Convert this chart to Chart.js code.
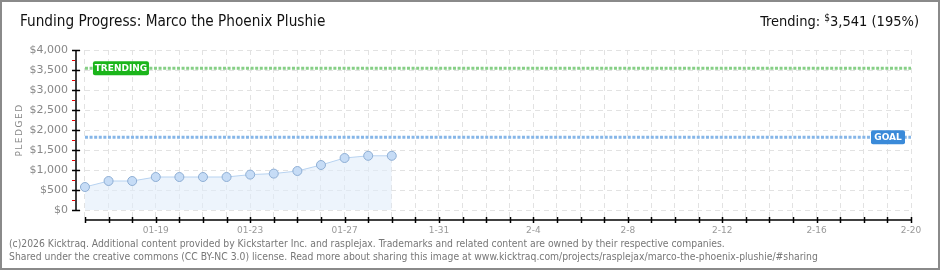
<!DOCTYPE html>
<html lang="en">
<head>
<meta charset="UTF-8">
<title>Funding Progress: Marco the Phoenix Plushie</title>
<script src="https://cdn.jsdelivr.net/npm/chart.js"></script>
<style>
  html, body { margin: 0; padding: 0; background: #fff; }
  #wrap { position: relative; width: 940px; height: 270px; overflow: hidden; }
  #frame { position: absolute; left: 0; top: 0; width: 936px; height: 266px; border: 2px solid #8a8a8a; pointer-events: none; }
  canvas { position: absolute; left: 0; top: 0; }
  .txt { position: absolute; white-space: nowrap; font-family: "Liberation Sans Narrow", "DejaVu Sans Condensed", sans-serif; }
  #title { left: 20px; top: 12px; font-size: 15.2px; color: #111; }
  #trend { right: 21px; top: 12px; font-size: 14.5px; color: #111; }
  #trend sup { font-size: 10px; vertical-align: 5px; }
  #foot { left: 9px; top: 237px; font-size: 10.3px; line-height: 13px; color: #777; }
</style>
</head>
<body>
<div id="wrap">
  <canvas id="chart" width="940" height="270"></canvas>
  <div class="txt" id="title">Funding Progress: Marco the Phoenix Plushie</div>
  <div class="txt" id="trend">Trending: <sup>$</sup>3,541 (195%)</div>
  <div class="txt" id="foot">(c)2026 Kicktraq. Additional content provided by Kickstarter Inc. and rasplejax. Trademarks and related content are owned by their respective companies.<br>Shared under the creative commons (CC BY-NC 3.0) license. Read more about sharing this image at www.kicktraq.com/projects/rasplejax/marco-the-phoenix-plushie/#sharing</div>
  <div id="frame"></div>
</div>
<script>
// daily pledged totals
const dates = ['01-16','01-17','01-18','01-19','01-20','01-21','01-22','01-23','01-24','01-25','01-26','01-27','01-28','01-29'];
const pledged = [575, 725, 725, 825, 825, 825, 825, 885, 910, 975, 1125, 1300, 1355, 1355];

const trending = 3541;
const goal = 1816;

const lastDay = 35; // 02-20
const xTickDays = [3, 7, 11, 15, 19, 23, 27, 31, 35];
const xTickLabels = ['01-19', '01-23', '01-27', '1-31', '2-4', '2-8', '2-12', '2-16', '2-20'];
const yTicks = [0, 500, 1000, 1500, 2000, 2500, 3000, 3500, 4000];
const yMinorTicks = [250, 750, 1250, 1750, 2250, 2750, 3250, 3750];

const labelFont = '"DejaVu Sans", sans-serif';

// axis lines, tick marks, axis title and the TRENDING / GOAL flags
const axesPlugin = {
    id: 'axes',
    afterDatasetsDraw(chart) {
        const ctx = chart.ctx;
        const x = chart.scales.x, y = chart.scales.y;
        const ax = chart.chartArea.left;
        ctx.save();
        ctx.strokeStyle = '#e00';
        ctx.lineWidth = 1;
        yMinorTicks.forEach(v => {
            const py = Math.round(y.getPixelForValue(v)) + 0.5;
            ctx.beginPath(); ctx.moveTo(ax - 4, py); ctx.lineTo(ax - 1, py); ctx.stroke();
        });
        ctx.strokeStyle = '#000';
        ctx.lineWidth = 1.5;
        ctx.beginPath();
        ctx.moveTo(ax, y.getPixelForValue(4000));
        ctx.lineTo(ax, y.getPixelForValue(0));
        ctx.stroke();
        yTicks.forEach(v => {
            const py = Math.round(y.getPixelForValue(v)) + 0.5;
            ctx.beginPath(); ctx.moveTo(ax - 4, py); ctx.lineTo(ax + 4, py); ctx.stroke();
        });
        const by = chart.chartArea.bottom;
        ctx.beginPath();
        ctx.moveTo(x.getPixelForValue(0), by);
        ctx.lineTo(x.getPixelForValue(lastDay), by);
        ctx.stroke();
        for (let d = 0; d <= lastDay; d++) {
            const px = Math.round(x.getPixelForValue(d)) + 0.5;
            ctx.beginPath(); ctx.moveTo(px, by - 3); ctx.lineTo(px, by + 3); ctx.stroke();
        }

        // y axis title
        const midY = (y.getPixelForValue(0) + y.getPixelForValue(4000)) / 2;
        ctx.translate(20, midY);
        ctx.rotate(-Math.PI / 2);
        ctx.fillStyle = '#888';
        ctx.font = '9px ' + labelFont;
        ctx.letterSpacing = '1.5px';
        ctx.textAlign = 'center';
        ctx.textBaseline = 'middle';
        ctx.fillText('PLEDGED', 0, 0);
        ctx.setTransform(1, 0, 0, 1, 0, 0);
        ctx.letterSpacing = '0px';

        function flag(text, color, left, value, w) {
            const py = y.getPixelForValue(value);
            ctx.fillStyle = color;
            ctx.beginPath();
            ctx.roundRect(left, py - 7, w, 14, 2);
            ctx.fill();
            ctx.fillStyle = '#fff';
            ctx.font = 'bold 9px ' + labelFont;
            ctx.textBaseline = 'middle';
            ctx.textAlign = 'center';
            ctx.fillText(text, left + w / 2, py + 0.5);
        }
        flag('TRENDING', '#1bb51b', x.getPixelForValue(0) + 8, trending, 56);
        flag('GOAL', '#3a8ad9', x.getPixelForValue(lastDay) - 40, goal, 34);
        ctx.restore();
    }
};

new Chart(document.getElementById('chart'), {
    type: 'line',
    data: {
        datasets: [
            {
                label: 'Pledged',
                data: pledged.map((v, i) => ({ x: i, y: v })),
                borderColor: '#b7d2f0',
                borderWidth: 1,
                backgroundColor: 'rgba(225,236,250,0.6)',
                fill: 'origin',
                tension: 0,
                pointRadius: 4.5,
                pointBackgroundColor: '#c6dcf6',
                pointBorderColor: '#8eaed4',
                pointBorderWidth: 1
            },
            {
                label: 'Trending',
                data: [{ x: 0, y: trending }, { x: lastDay, y: trending }],
                borderColor: '#86cf86',
                borderWidth: 3,
                borderDash: [3, 1.6],
                pointRadius: 0,
                fill: false
            },
            {
                label: 'Goal',
                data: [{ x: 0, y: goal }, { x: lastDay, y: goal }],
                borderColor: '#86b6e8',
                borderWidth: 3,
                borderDash: [3, 1.6],
                pointRadius: 0,
                fill: false
            }
        ]
    },
    options: {
        responsive: false,
        animation: false,
        layout: { padding: { left: 0, top: 50, right: 29, bottom: 0 } },
        plugins: { legend: { display: false }, tooltip: { enabled: false } },
        scales: {
            x: {
                type: 'linear',
                min: -0.38,
                max: lastDay,
                afterBuildTicks: s => {
                    const t = [];
                    for (let d = 0; d <= lastDay; d++) t.push({ value: d });
                    s.ticks = t;
                },
                afterFit: s => { s.height = 50; },
                border: { display: false, dash: [5, 4] },
                grid: { color: '#e2e2e2', drawTicks: false },
                ticks: {
                    autoSkip: false,
                    maxRotation: 0,
                    padding: 5,
                    color: '#999',
                    font: { family: labelFont, size: 9 },
                    callback: v => {
                        const k = xTickDays.indexOf(v);
                        return k >= 0 ? xTickLabels[k] : '';
                    }
                }
            },
            y: {
                min: -250,
                max: 4000,
                afterBuildTicks: s => { s.ticks = yTicks.map(v => ({ value: v })); },
                afterFit: s => { s.width = 76; },
                border: { display: false, dash: [5, 4] },
                grid: { color: '#e2e2e2', drawTicks: false },
                ticks: {
                    padding: 8,
                    color: '#888',
                    font: { family: labelFont, size: 11 },
                    callback: v => '$' + v.toLocaleString('en-US')
                }
            }
        }
    },
    plugins: [axesPlugin]
});
</script>
</body>
</html>
